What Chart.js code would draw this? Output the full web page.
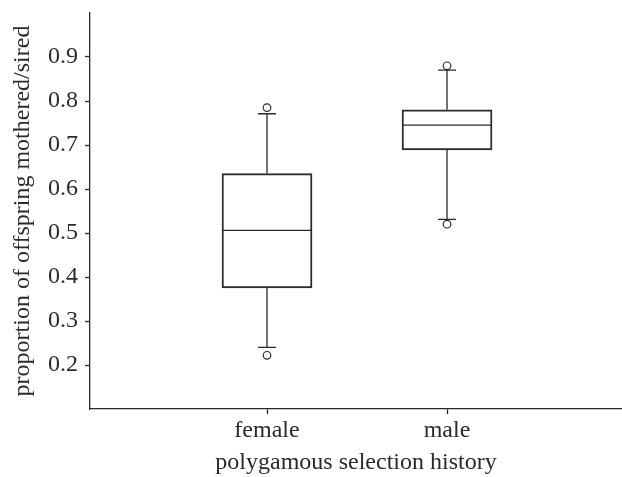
<!DOCTYPE html>
<html>
<head>
<meta charset="utf-8">
<script src="https://cdn.jsdelivr.net/npm/chart.js@4"></script>
<style>
html,body{margin:0;padding:0;background:#fff;}
#wrap{width:622px;height:477px;position:relative;}
</style>
</head>
<body>
<div id="wrap"><canvas id="c"></canvas></div>
<script>
const categories = ['female', 'male'];
const catPos = [1, 2];
const q1 = [0.375, 0.689];
const median = [0.506, 0.745];
const q3 = [0.635, 0.780];
const whiskerLow = [0.240, 0.531];
const whiskerHigh = [0.771, 0.870];
const outlierLow = [0.222, 0.520];
const outlierHigh = [0.785, 0.880];
const yTicks = [0.2, 0.3, 0.4, 0.5, 0.6, 0.7, 0.8, 0.9];

const ink = '#2a2a2a';
const fontFam = "'Liberation Serif', 'Times New Roman', Times, serif";

const boxData = catPos.map((x, i) => ({ x: x, y: [q1[i], q3[i]] }));
const outliers = [];
catPos.forEach((x, i) => {
  outliers.push({ x: x, y: outlierLow[i] });
  outliers.push({ x: x, y: outlierHigh[i] });
});

const boxPlugin = {
  id: 'boxParts',
  afterDatasetsDraw(chart) {
    const ctx = chart.ctx;
    const xs = chart.scales.x, ys = chart.scales.y;
    ctx.save();
    ctx.strokeStyle = ink;
    ctx.lineWidth = 1.3;
    const halfBox = 0.25, halfCap = 0.05;
    catPos.forEach((x, i) => {
      const xc = xs.getPixelForValue(x);
      const xl = xs.getPixelForValue(x - halfBox);
      const xr = xs.getPixelForValue(x + halfBox);
      const cl = xs.getPixelForValue(x - halfCap);
      const cr = xs.getPixelForValue(x + halfCap);
      const pm = ys.getPixelForValue(median[i]);
      const p1 = ys.getPixelForValue(q1[i]);
      const p3 = ys.getPixelForValue(q3[i]);
      const wl = ys.getPixelForValue(whiskerLow[i]);
      const wh = ys.getPixelForValue(whiskerHigh[i]);
      ctx.beginPath();
      ctx.moveTo(xl, pm); ctx.lineTo(xr, pm);
      ctx.moveTo(xc, p3); ctx.lineTo(xc, wh);
      ctx.moveTo(cl, wh); ctx.lineTo(cr, wh);
      ctx.moveTo(xc, p1); ctx.lineTo(xc, wl);
      ctx.moveTo(cl, wl); ctx.lineTo(cr, wl);
      ctx.stroke();
    });
    ctx.restore();
  }
};

function build() {
  new Chart(document.getElementById('c'), {
    type: 'bar',
    data: {
      datasets: [
        {
          type: 'bar',
          data: boxData,
          backgroundColor: 'rgba(255,255,255,0)',
          borderColor: ink,
          borderWidth: 1.3,
          borderSkipped: false,
          barThickness: 90,
          order: 2
        },
        {
          type: 'scatter',
          data: outliers,
          pointRadius: 3.8,
          pointBorderWidth: 1.2,
          pointBackgroundColor: '#fff',
          pointBorderColor: ink,
          order: 1
        }
      ]
    },
    options: {
      responsive: true,
      maintainAspectRatio: false,
      animation: false,
      layout: { autoPadding: false, padding: { top: 13, right: 0, left: 0, bottom: 0 } },
      plugins: { legend: { display: false }, tooltip: { enabled: false } },
      scales: {
        x: {
          type: 'linear',
          offset: false,
          min: 0.0167,
          max: 2.972,
          afterBuildTicks(s) { s.ticks = catPos.map(v => ({ value: v })); },
          afterFit(s) { s.height = 68; s.paddingLeft = 0; s.paddingRight = 0; },
          ticks: {
            callback: (v) => { const i = catPos.indexOf(v); return i >= 0 ? categories[i] : ''; },
            font: { family: fontFam, size: 24 },
            color: ink,
            padding: 2,
            maxRotation: 0,
            autoSkip: false
          },
          grid: { offset: false, drawOnChartArea: false, tickLength: 5, tickColor: ink, tickWidth: 1.3 },
          border: { display: true, color: ink, width: 1.3 },
          title: {
            display: true,
            text: 'polygamous selection history',
            font: { family: fontFam, size: 24 },
            color: ink,
            padding: { top: 2, bottom: 0 }
          }
        },
        y: {
          type: 'linear',
          min: 0.1,
          max: 1.0,
          afterBuildTicks(s) { s.ticks = yTicks.map(v => ({ value: v })); },
          afterFit(s) { s.width = 90; s.paddingTop = 0; s.paddingBottom = 0; },
          ticks: {
            callback: (v) => v.toFixed(1),
            font: { family: fontFam, size: 24 },
            color: ink,
            padding: 7,
            autoSkip: false
          },
          grid: { drawOnChartArea: false, tickLength: 5, tickColor: ink, tickWidth: 1.3 },
          border: { display: true, color: ink, width: 1.3 },
          title: {
            display: true,
            text: 'proportion of offspring mothered/sired',
            font: { family: fontFam, size: 24 },
            color: ink,
            padding: { top: 8, bottom: 0 }
          }
        }
      }
    },
    plugins: [boxPlugin]
  });
}

if (document.fonts && document.fonts.load) {
  document.fonts.load("24px 'Liberation Serif'").then(build, build);
} else {
  build();
}
</script>
</body>
</html>
